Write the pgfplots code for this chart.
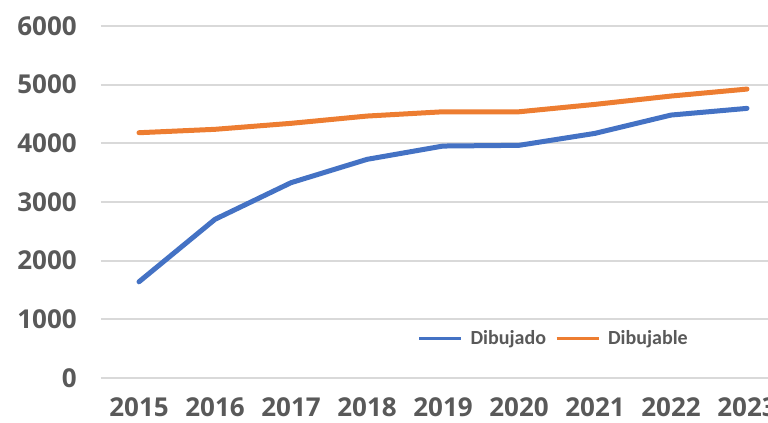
\documentclass[border=0pt]{standalone}
\usepackage{fontspec}
\setmainfont{Open Sans}
\newfontfamily\legfont{Carlito}
\usepackage{pgfplots}
\pgfplotsset{compat=1.18}
\definecolor{dblue}{HTML}{4472C4}
\definecolor{dorange}{HTML}{ED7D31}
\definecolor{tickgray}{HTML}{595959}
\definecolor{gridgray}{HTML}{D9D9D9}

\begin{document}
\begin{tikzpicture}
\useasboundingbox (0,0) rectangle (576pt,316.5pt);
\clip (0,0) rectangle (576pt,316.5pt);
\begin{axis}[
    at={(75.75pt,33pt)}, anchor=south west,
    scale only axis,
    width=513pt, height=264pt,
    xmin=-0.5, xmax=8.5,
    ymin=0, ymax=6000,
    xtick={0,1,2,3,4,5,6,7,8},
    xticklabels={2015,2016,2017,2018,2019,2020,2021,2022,2023},
    ytick={0,1000,2000,3000,4000,5000,6000},
    yticklabels={0,1000,2000,3000,4000,5000,6000},
    axis line style={draw=none},
    major tick length=0pt,
    ymajorgrids=true,
    grid style={gridgray, line width=1.5pt},
    tick label style={font=\bfseries\fontsize{19.5}{20}\selectfont, text=tickgray, inner sep=0pt},
    /pgf/number format/assume math mode=true,
    yticklabel style={anchor=east, xshift=-18pt},
    xticklabel style={anchor=north, yshift=-14.5pt},
    legend style={at={(0.443,0.165)}, anchor=north west, draw=none, fill=white,
        font=\legfont\bfseries\fontsize{15}{16}\selectfont, text=tickgray,
        inner xsep=10pt, inner ysep=8pt,
        nodes={inner sep=0pt},
        /tikz/every odd column/.append style={column sep=6pt},
        /tikz/every even column/.append style={column sep=6.75pt}},
    legend columns=2,
    legend image code/.code={\draw[#1, line width=2.25pt, line cap=butt] (0pt,0pt) -- (31.5pt,0pt);},
    every axis plot/.append style={line width=3.75pt, line join=round, line cap=round},
]
\addplot[dblue] coordinates {(0,1640) (1,2705) (2,3329) (3,3727) (4,3954) (5,3966) (6,4170) (7,4482) (8,4596)};
\addlegendentry{Dibujado}
\addplot[dorange] coordinates {(0,4181) (1,4239) (2,4341) (3,4465) (4,4538) (5,4538) (6,4664) (7,4806) (8,4925)};
\addlegendentry{Dibujable}
\end{axis}
\end{tikzpicture}
\end{document}
